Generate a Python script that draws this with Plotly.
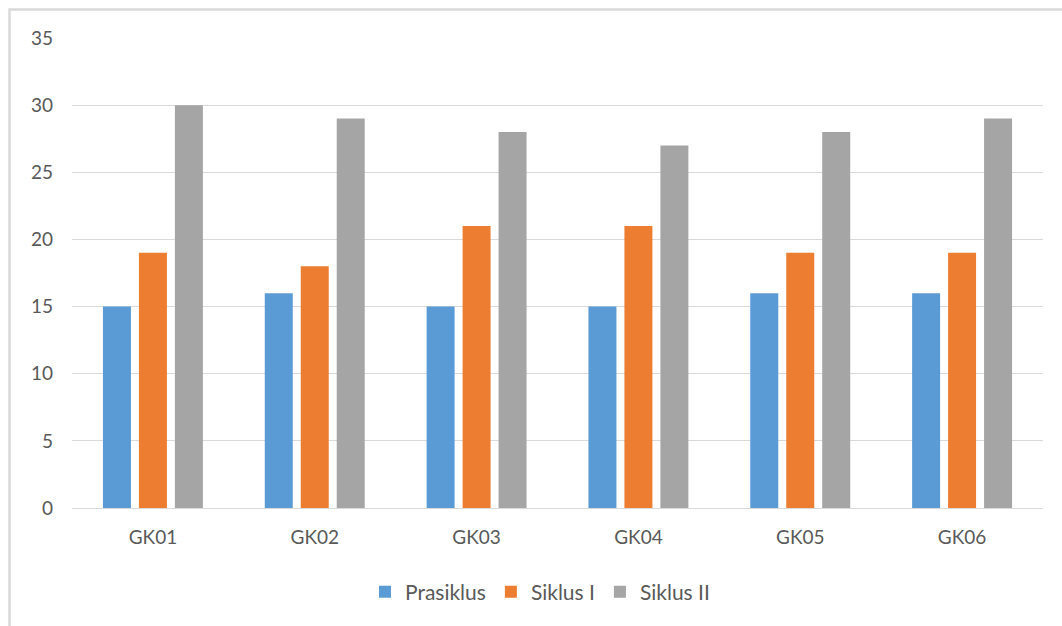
import plotly.graph_objects as go

# Scores per group across the three cycles
categories = ["GK01", "GK02", "GK03", "GK04", "GK05", "GK06"]
prasiklus = [15, 16, 15, 15, 16, 16]
siklus_1 = [19, 18, 21, 21, 19, 19]
siklus_2 = [30, 29, 28, 27, 28, 29]
y_ticks = [0, 5, 10, 15, 20, 25, 30, 35]

FONT = "Lato, Carlito, Calibri, sans-serif"
TEXT = "#595959"
GRID = "#d9d9d9"

W, H = 1062, 626
L, R, T, B = 72, 19, 38, 118
pw, ph = W - L - R, H - T - B


def px_x(px):
    return (px - L) / pw


def px_y(py):
    return (H - B - py) / ph


fig = go.Figure()
for name, vals, color in [
    ("Prasiklus", prasiklus, "#5b9bd5"),
    ("Siklus I", siklus_1, "#ed7d31"),
    ("Siklus II", siklus_2, "#a5a5a5"),
]:
    fig.add_trace(go.Bar(x=categories, y=vals, name=name,
                         marker=dict(color=color, line=dict(width=0))))

# Chart-area frame (left and top edges visible)
fig.add_shape(type="path", xref="paper", yref="paper",
              path=f"M {px_x(9.5)},{px_y(640)} L {px_x(9.5)},{px_y(9.5)} L {px_x(1080)},{px_y(9.5)}",
              line=dict(color=GRID, width=2.5), layer="below")

fig.update_layout(
    width=W, height=H,
    margin=dict(l=L, r=R, t=T, b=B),
    paper_bgcolor="white", plot_bgcolor="white",
    barmode="group", bargap=0.333, bargroupgap=0.222,
    font=dict(family=FONT, color=TEXT, size=19),
    showlegend=True,
    legend=dict(orientation="h", x=px_x(540), xanchor="center",
                y=px_y(592), yanchor="middle",
                font=dict(size=21, color=TEXT), itemwidth=30,
                traceorder="normal"),
)
fig.update_xaxes(showgrid=False, showline=False, ticks="",
                 tickfont=dict(size=19, color=TEXT),
                 ticklabelstandoff=16)
fig.update_yaxes(range=[0, 35], tickvals=y_ticks, showgrid=True,
                 gridcolor=GRID, gridwidth=1, zeroline=True,
                 zerolinecolor=GRID, zerolinewidth=1, showline=False,
                 ticks="", tickfont=dict(size=19, color=TEXT),
                 ticklabelstandoff=18)

fig.write_html("out.html")
